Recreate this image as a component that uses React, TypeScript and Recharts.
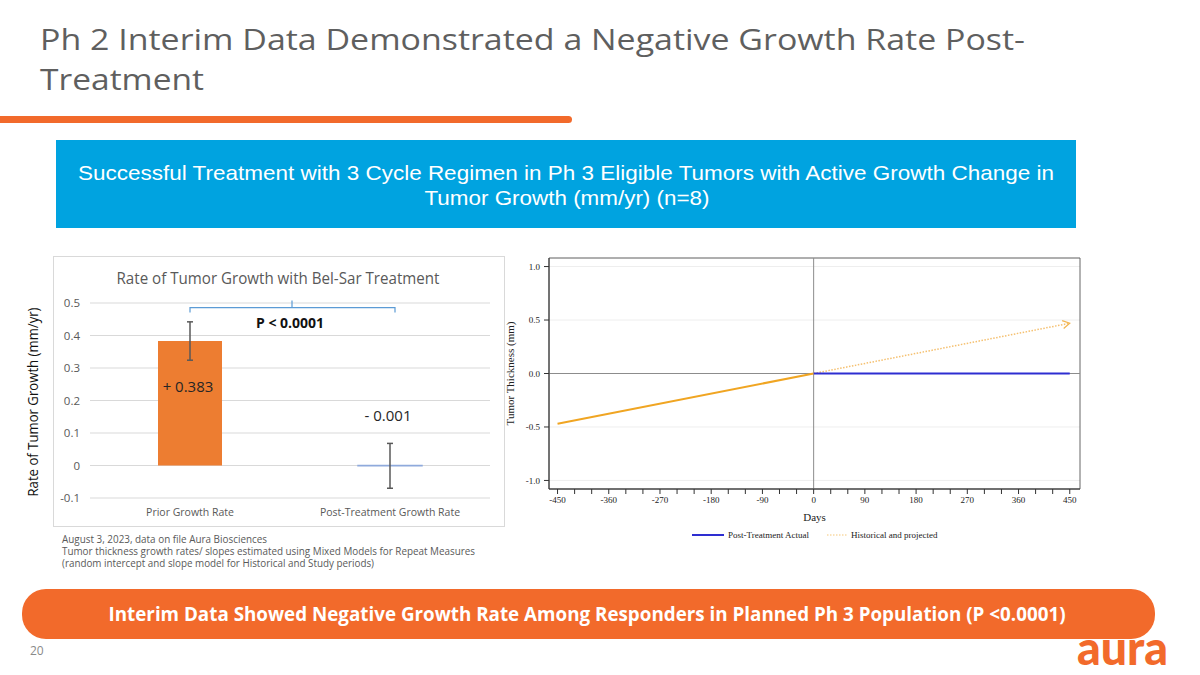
import React from 'react';
import {
  BarChart, Bar, XAxis, YAxis, CartesianGrid, ErrorBar, LabelList, ReferenceLine, Cell,
  LineChart, Line, ReferenceArea, Legend, Label,
} from 'recharts';

// ---------- Left chart data ----------
const categories = ['Prior Growth Rate', 'Post-Treatment Growth Rate'];
const growthRates = [0.383, -0.001];
const growthErrors = [0.059, 0.069];
const rateLabels = ['+ 0.383', '- 0.001'];
const barColors = ['#ED7D31', '#8FAADC'];
const rateTicks = [-0.1, 0, 0.1, 0.2, 0.3, 0.4, 0.5];
const bracketLevel = 0.486;
const pValueText = 'P < 0.0001';

// ---------- Right chart data ----------
const days = [-450, 0, 450];
const historical = [-0.47, 0, null];
const projected = [null, 0, 0.47];
const postTreatment = [null, 0, -0.001];
const dayTicks = [
  -450, -420, -390, -360, -330, -300, -270, -240, -210, -180, -150, -120, -90, -60, -30, 0,
  30, 60, 90, 120, 150, 180, 210, 240, 270, 300, 330, 360, 390, 420, 450,
];
const dayLabelTicks = [-450, -360, -270, -180, -90, 0, 90, 180, 270, 360, 450];
const thicknessTicks = [-1, -0.5, 0, 0.5, 1];
const legendNames = ['Post-Treatment Actual', 'Historical and projected'];

const SANS = '"Open Sans", "Noto Sans", sans-serif';
const ARIAL = '"Liberation Sans", Arial, sans-serif';
const SERIF = '"Liberation Serif", "Times New Roman", serif';
const ORANGE = '#F26A2B';

const barData = categories.map((c, i) => ({
  category: c,
  rate: growthRates[i],
  err: growthErrors[i],
  label: rateLabels[i],
}));

const lineData = days.map((d, i) => ({
  day: d,
  historical: historical[i],
  projected: projected[i],
  post: postTreatment[i],
}));

const BracketShape = (props: any) => {
  const { x1, y1, x2 } = props;
  const mid = (x1 + x2) / 2;
  return (
    <g>
      <path
        d={`M${x1},${y1 + 5} L${x1},${y1} L${x2 + 5},${y1} L${x2 + 5},${y1 + 5} M${mid + 2},${y1} L${mid + 2},${y1 - 7}`}
        stroke="#5B9BD5"
        strokeWidth={1.2}
        fill="none"
      />
      <text x={mid} y={y1 + 20} textAnchor="middle" fontFamily={SANS} fontWeight={700} fontSize={14} fill="#111">
        {pValueText}
      </text>
    </g>
  );
};

const RateLabel = (props: any) => {
  const { x, y, width, index, value } = props;
  const cx = x + width / 2 - 2;
  const cy = index === 0 ? y + 46 : y - 50;
  return (
    <text x={cx} y={cy} dy="0.35em" textAnchor="middle" fontFamily={SANS} fontSize={15} fill="#262626">
      {value}
    </text>
  );
};

const ArrowDot = (props: any) => {
  const { cx, cy, index } = props;
  if (index !== lineData.length - 1 || cx == null || cy == null) return <g key={`d${index}`} />;
  return (
    <g key={`d${index}`} transform={`translate(${cx},${cy}) rotate(-11)`}>
      <path d="M-7,-4 L0,0 L-7,4" stroke="#F2B550" strokeWidth={1.2} fill="none" />
    </g>
  );
};

const LegendContent = () => (
  <div
    style={{
      display: 'flex',
      alignItems: 'center',
      height: 21,
      paddingLeft: 192,
      fontFamily: SERIF,
      fontSize: 9,
      color: '#222',
      whiteSpace: 'nowrap',
    }}
  >
    <svg width={32} height={6}>
      <line x1={0} y1={3} x2={32} y2={3} stroke="#2E2ED1" strokeWidth={2} />
    </svg>
    <span style={{ marginLeft: 4 }}>{legendNames[0]}</span>
    <svg width={20} height={6} style={{ marginLeft: 18 }}>
      <line x1={0} y1={3} x2={20} y2={3} stroke="#F5C878" strokeWidth={1.2} strokeDasharray="1.5 1.5" />
    </svg>
    <span style={{ marginLeft: 4 }}>{legendNames[1]}</span>
  </div>
);

export default function App() {
  return (
    <div
      style={{
        position: 'fixed',
        left: 0,
        top: 0,
        width: 1200,
        height: 675,
        background: '#fff',
        overflow: 'hidden',
      }}
    >
      <svg width={1200} height={675} style={{ position: 'absolute', left: 0, top: 0 }}>
        {/* Title */}
        <text x={40} y={50} fontFamily={SANS} fontSize={29} fill="#5f5f5f" textLength={985} lengthAdjust="spacingAndGlyphs">
          Ph 2 Interim Data Demonstrated a Negative Growth Rate Post-
        </text>
        <text x={40} y={89.5} fontFamily={SANS} fontSize={29} fill="#5f5f5f" textLength={164} lengthAdjust="spacingAndGlyphs">
          Treatment
        </text>
        <rect x={-6} y={116} width={578} height={7} rx={3.5} fill={ORANGE} />

        {/* Blue banner */}
        <rect x={56} y={140} width={1020} height={88} fill="#00A3E0" />
        <text x={566} y={180} textAnchor="middle" fontFamily={ARIAL} fontSize={21} fill="#fff" textLength={976} lengthAdjust="spacingAndGlyphs">
          Successful Treatment with 3 Cycle Regimen in Ph 3 Eligible Tumors with Active Growth Change in
        </text>
        <text x={567} y={205} textAnchor="middle" fontFamily={ARIAL} fontSize={21} fill="#fff" textLength={285} lengthAdjust="spacingAndGlyphs">
          Tumor Growth (mm/yr) (n=8)
        </text>

        {/* Left chart frame */}
        <rect x={53.5} y={256.5} width={451} height={270} fill="#fff" stroke="#d9d9d9" strokeWidth={1} />
        <text x={278} y={284} textAnchor="middle" fontFamily={SANS} fontSize={17} fill="#595959" textLength={323} lengthAdjust="spacingAndGlyphs">
          Rate of Tumor Growth with Bel-Sar Treatment
        </text>
        <text
          x={38}
          y={402}
          transform="rotate(-90, 38, 402)"
          textAnchor="middle"
          fontFamily={SANS}
          fontSize={15}
          fill="#111"
          textLength={189}
          lengthAdjust="spacingAndGlyphs"
        >
          Rate of Tumor Growth (mm/yr)
        </text>

        {/* Footnotes */}
        <text x={62} y={543} fontFamily={SANS} fontSize={10} fill="#595959" textLength={205} lengthAdjust="spacingAndGlyphs">
          August 3, 2023, data on file Aura Biosciences
        </text>
        <text x={62} y={555} fontFamily={SANS} fontSize={10} fill="#595959" textLength={413} lengthAdjust="spacingAndGlyphs">
          Tumor thickness growth rates/ slopes estimated using Mixed Models for Repeat Measures
        </text>
        <text x={62} y={567} fontFamily={SANS} fontSize={10} fill="#595959" textLength={312} lengthAdjust="spacingAndGlyphs">
          (random intercept and slope model for Historical and Study periods)
        </text>

        {/* Bottom banner */}
        <rect x={22} y={589} width={1133} height={50} rx={24} fill={ORANGE} />
        <text x={587} y={621} textAnchor="middle" fontFamily={SANS} fontWeight={700} fontSize={19} fill="#fff" textLength={957} lengthAdjust="spacingAndGlyphs">
          Interim Data Showed Negative Growth Rate Among Responders in Planned Ph 3 Population (P &lt;0.0001)
        </text>

        {/* Page number & logo */}
        <text x={30} y={655} fontFamily={SANS} fontSize={12} fill="#8a8a8a">20</text>
        <text x={1077} y={665} fontFamily="Lato, sans-serif" fontWeight={900} fontSize={48} fill={ORANGE} textLength={91} lengthAdjust="spacingAndGlyphs">
          aura
        </text>
      </svg>

      {/* Left chart */}
      <div style={{ position: 'absolute', left: 53, top: 257 }}>
        <BarChart width={451} height={270} data={barData} margin={{ top: 46, right: 14, left: 0, bottom: 0 }}>
          <CartesianGrid vertical={false} stroke="#d9d9d9" />
          <XAxis
            dataKey="category"
            axisLine={false}
            tickLine={false}
            tickSize={0}
            tickMargin={11}
            height={29}
            interval={0}
            tick={{ fill: '#595959', fontSize: 10.5, fontFamily: SANS }}
          />
          <YAxis
            type="number"
            domain={[-0.1, 0.5]}
            ticks={rateTicks}
            interval={0}
            axisLine={false}
            tickLine={false}
            tickSize={0}
            tickMargin={10}
            width={37}
            tick={{ fill: '#595959', fontSize: 11.5, fontFamily: SANS }}
            tickFormatter={(v: number) => String(v)}
          />
          <ReferenceLine
            segment={[
              { x: categories[0], y: bracketLevel },
              { x: categories[1], y: bracketLevel },
            ]}
            shape={BracketShape}
            ifOverflow="visible"
          />
          <Bar dataKey="rate" barSize={64} isAnimationActive={false}>
            {barData.map((d, i) => (
              <Cell key={d.category} fill={barColors[i]} stroke={barColors[i]} strokeWidth={i === 1 ? 1.5 : 0} />
            ))}
            <ErrorBar dataKey="err" width={3} stroke="#595959" strokeWidth={1.5} direction="y" />
            <LabelList dataKey="label" content={RateLabel} />
          </Bar>
        </BarChart>
      </div>

      {/* Right chart */}
      <div style={{ position: 'absolute', left: 500, top: 255 }}>
        <LineChart width={590} height={290} data={lineData} margin={{ top: 3, right: 10, left: 0, bottom: 0 }}>
          <CartesianGrid vertical={false} stroke="#eeeeee" />
          <XAxis
            dataKey="day"
            type="number"
            domain={[-465, 468]}
            ticks={dayTicks}
            interval={0}
            tickFormatter={(v: number) => (dayLabelTicks.includes(v) ? String(v) : '')}
            tickSize={5}
            tickMargin={3}
            height={35}
            axisLine={{ stroke: '#333' }}
            tickLine={{ stroke: '#333' }}
            tick={{ fill: '#222', fontSize: 9, fontFamily: SERIF }}
          >
            <Label value="Days" position="insideBottom" offset={3} style={{ fill: '#222', fontSize: 11, fontFamily: SERIF }} />
          </XAxis>
          <YAxis
            type="number"
            domain={[-1.08, 1.08]}
            ticks={thicknessTicks}
            interval={0}
            tickFormatter={(v: number) => v.toFixed(1)}
            tickSize={5}
            tickMargin={4}
            width={49}
            axisLine={{ stroke: '#333' }}
            tickLine={{ stroke: '#333' }}
            tick={{ fill: '#222', fontSize: 9, fontFamily: SERIF }}
          >
            <Label
              value="Tumor Thickness (mm)"
              angle={-90}
              position="insideLeft"
              offset={10}
              style={{ fill: '#222', fontSize: 11, fontFamily: SERIF, textAnchor: 'middle' }}
            />
          </YAxis>
          <ReferenceArea x1={-465} x2={468} y1={-1.08} y2={1.08} fill="none" stroke="#666" strokeWidth={1} ifOverflow="visible" />
          <ReferenceLine y={0} stroke="#8c8c8c" strokeWidth={1} />
          <ReferenceLine x={0} stroke="#8c8c8c" strokeWidth={1} />
          <Legend verticalAlign="bottom" height={21} content={LegendContent} />
          <Line
            type="linear"
            dataKey="historical"
            stroke="#F0A522"
            strokeWidth={2}
            dot={false}
            activeDot={false}
            isAnimationActive={false}
            legendType="none"
          />
          <Line
            type="linear"
            dataKey="projected"
            stroke="#F5C070"
            strokeWidth={1.5}
            strokeDasharray="1.5 1.5"
            dot={ArrowDot}
            activeDot={false}
            isAnimationActive={false}
            legendType="none"
          />
          <Line
            type="linear"
            dataKey="post"
            stroke="#2E2ED1"
            strokeWidth={2}
            dot={false}
            activeDot={false}
            isAnimationActive={false}
            legendType="none"
          />
        </LineChart>
      </div>
    </div>
  );
}
